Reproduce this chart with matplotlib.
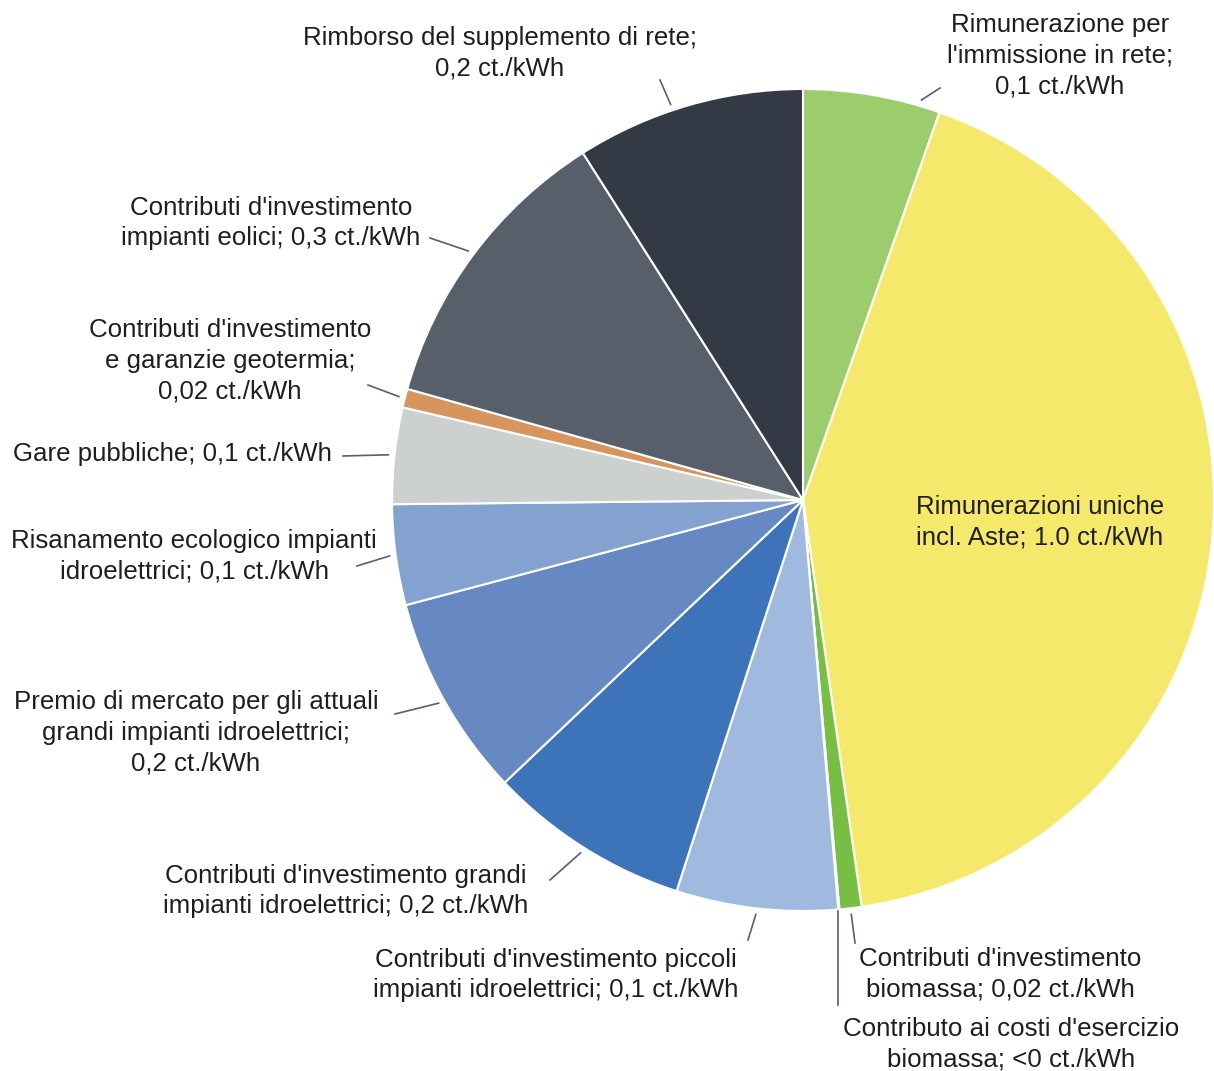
import numpy as np
import matplotlib
matplotlib.use("Agg")
from matplotlib import pyplot as plt

plt.rcParams['font.family'] = ['Liberation Sans', 'DejaVu Sans']

# values in ct./kWh, clockwise from 12 o'clock
labels = [
    "Rimunerazione per\nl'immissione in rete;\n0,1 ct./kWh",
    "Rimunerazioni uniche\nincl. Aste; 1.0 ct./kWh",
    "Contributi d'investimento\nbiomassa; 0,02 ct./kWh",
    "Contributo ai costi d'esercizio\nbiomassa; <0 ct./kWh",
    "Contributi d'investimento piccoli\nimpianti idroelettrici; 0,1 ct./kWh",
    "Contributi d'investimento grandi\nimpianti idroelettrici; 0,2 ct./kWh",
    "Premio di mercato per gli attuali\ngrandi impianti idroelettrici;\n0,2 ct./kWh",
    "Risanamento ecologico impianti\nidroelettrici; 0,1 ct./kWh",
    "Gare pubbliche; 0,1 ct./kWh",
    "Contributi d'investimento\ne garanzie geotermia;\n0,02 ct./kWh",
    "Contributi d'investimento\nimpianti eolici; 0,3 ct./kWh",
    "Rimborso del supplemento di rete;\n0,2 ct./kWh",
]
values = [0.124, 0.974, 0.020, 0.001, 0.146, 0.183, 0.183, 0.091, 0.087, 0.017, 0.268, 0.207]
colors = ["#9ccd6c", "#f5e96c", "#76bf43", "#ffffff", "#a0badf", "#3d73b9",
          "#6688c3", "#83a2cf", "#ccd1d0", "#d6955c", "#57606a", "#343a45"]

# label centres (pixels, top-left origin) and leader line ends
text_pos = [(1060, 56), (1040, 522), (1000, 974), (1011, 1044), (556, 975), (346, 891),
            (196, 733), (194, 556), (172, 454), (230, 361), (271, 223), (500, 53)]
line_end = [(940, 88), None, (855, 943), (838, 1005), (748, 940), (550, 880),
            (395, 714), (357, 566), (343, 456), (368, 385), (430, 238), (660, 80)]
anchor_angle = {0: 16.5, 11: 341.5}  # degrees clockwise from top, where it differs from the mid-angle

W, H = 1214, 1071
fig = plt.figure(figsize=(W / 100, H / 100), dpi=100)
ax = fig.add_axes([0, 0, 1, 1])

cx, cy, R = 803, 500, 411
# pie drawn in a flipped y axis -> counterclock=True gives clockwise on screen
wedges, _ = ax.pie(values, colors=colors, startangle=-90, counterclock=True,
                   center=(cx, cy), radius=R, frame=True,
                   wedgeprops=dict(edgecolor='white', linewidth=1.5))
ax.set_xlim(0, W)
ax.set_ylim(H, 0)
ax.axis('off')

for i, w in enumerate(wedges):
    tx, ty = text_pos[i]
    ax.text(tx, ty, labels[i], ha='center', va='center', fontsize=18.6,
            color='#1e1e1e', linespacing=1.36)
    if line_end[i] is None:
        continue
    mid = (w.theta1 + w.theta2) / 2.0
    ang = np.deg2rad(mid) if i not in anchor_angle else np.deg2rad(anchor_angle[i] - 90)
    sx = cx + 1.015 * R * np.cos(ang)
    sy = cy + 1.015 * R * np.sin(ang)
    ex, ey = line_end[i]
    if i == 3:
        # near-zero slice: plain vertical leader
        sx, sy = ex, cy + 1.0 * R
    ax.plot([sx, ex], [sy, ey], color='#59606a', linewidth=1.2)

fig.savefig("out.png", dpi=100, facecolor='white')
